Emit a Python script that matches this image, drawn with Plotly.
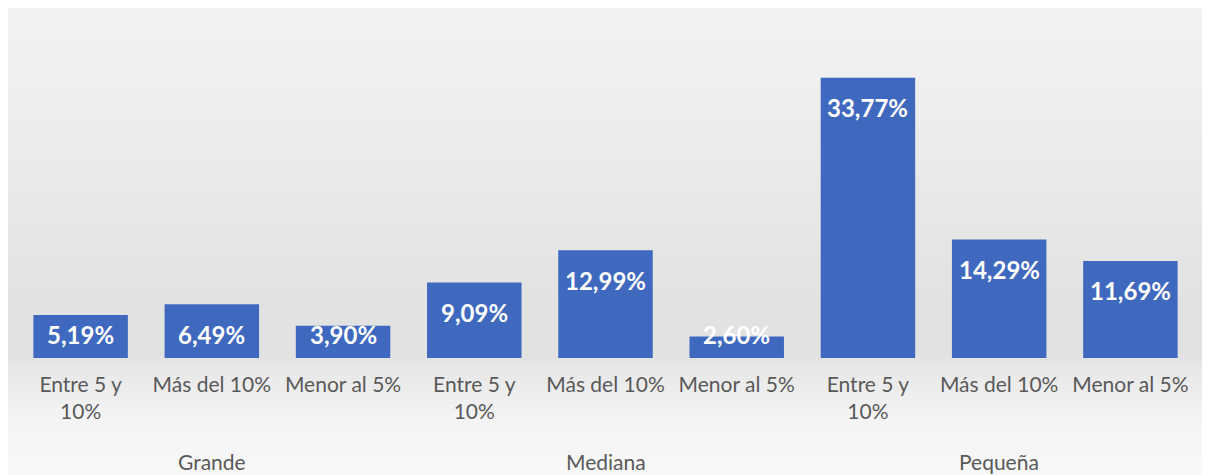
import plotly.graph_objects as go

groups = ["Grande", "Mediana", "Pequeña"]
categories = ["Entre 5 y<br>10%", "Más del 10%", "Menor al 5%"]
values = [5.19, 6.49, 3.90, 9.09, 12.99, 2.60, 33.77, 14.29, 11.69]
labels = ["5,19%", "6,49%", "3,90%", "9,09%", "12,99%", "2,60%", "33,77%", "14,29%", "11,69%"]

# page body has an 8px margin; figure spans screen x 8..1203, y 8..475
W, H = 1195, 467
L, R, T, B = 7, 7, 18, 117
ph = H - T - B
pw = W - L - R
base = H - B  # internal pixel y of baseline

n_cat = len(categories)
xpos = list(range(len(values)))
ticktext = [categories[i % n_cat] for i in xpos]

fig = go.Figure()
fig.add_trace(go.Bar(
    x=xpos, y=values,
    marker=dict(color="#3f69be", line=dict(width=0)),
    width=0.72, hoverinfo="skip",
))

# data labels (inside end)
for i, (v, t) in enumerate(zip(values, labels)):
    fig.add_annotation(
        xref="x", yref="y", x=i, y=max(v - 3.6, 2.8), text=t, showarrow=False,
        font=dict(family="Lato", size=24, color="white", weight="bold"),
        xanchor="center", yanchor="middle",
    )

# group labels
for gi, g in enumerate(groups):
    fig.add_annotation(
        xref="x", yref="paper", x=gi * n_cat + (n_cat - 1) / 2,
        y=(base - 454) / ph, text=g, showarrow=False,
        font=dict(family="Lato", size=21, color="#595959"),
        xanchor="center", yanchor="middle",
    )

# background gradient strips (pixel aligned, overlapping); stops in screen px
stops = [(6, 242), (100, 238), (200, 232), (300, 226), (355, 226), (385, 236), (420, 244), (475, 248)]
def gray(py):
    for (a, ga), (b, gb) in zip(stops, stops[1:]):
        if a <= py <= b:
            return ga + (gb - ga) * (py - a) / (b - a)
    return stops[-1][1]
shapes = []
step = 4
py = 0
while py < H:
    y0 = py
    y1 = min(py + step + 1, H)
    gval = int(round(gray(py + 8 + step / 2)))
    shapes.append(dict(
        type="rect", xref="paper", yref="paper", layer="below",
        x0=-L / pw, x1=1 + R / pw,
        y0=(base - y1) / ph, y1=(base - y0) / ph,
        line=dict(width=0), fillcolor=f"rgb({gval},{gval},{gval})",
    ))
    py += step

fig.update_layout(
    width=W, height=H,
    margin=dict(l=L, r=R, t=T, b=B, autoexpand=False),
    paper_bgcolor="#f0f0f0", plot_bgcolor="rgba(0,0,0,0)",
    showlegend=False, shapes=shapes,
    font=dict(family="Lato", size=21, color="#595959"),
    xaxis=dict(range=[-0.5, len(values) - 0.5], tickmode="array", tickvals=xpos,
               ticktext=ticktext, showline=False, ticks="", showgrid=False,
               zeroline=False, automargin=False, ticklabelstandoff=12,
               tickfont=dict(family="Lato", size=21, color="#595959")),
    yaxis=dict(range=[0, 40], visible=False, showgrid=False, automargin=False),
)
fig.write_html("out.html")
